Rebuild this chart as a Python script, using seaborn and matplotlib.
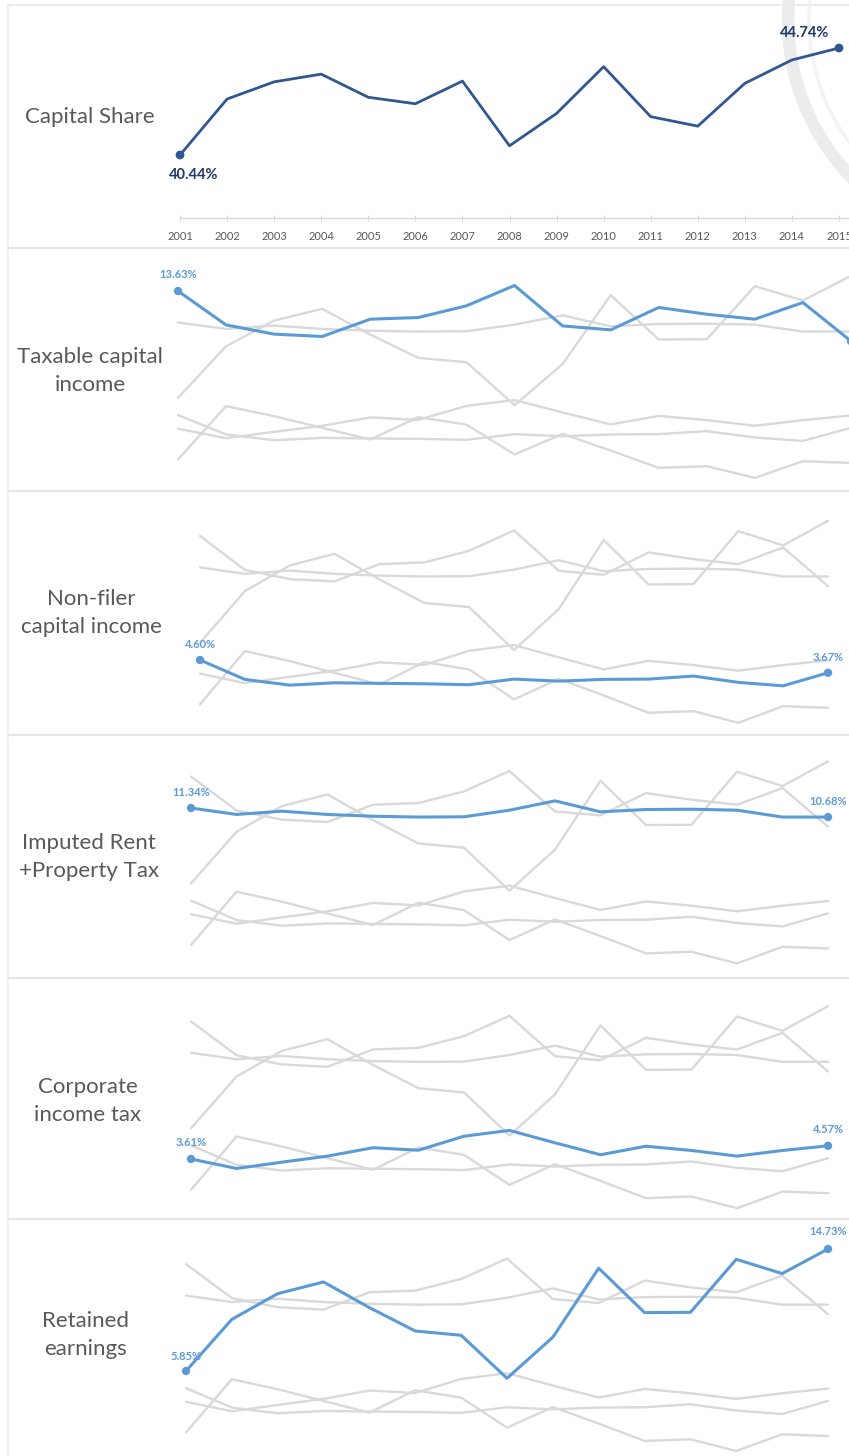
import matplotlib
matplotlib.use("Agg")
import matplotlib.pyplot as plt
import numpy as np
import pandas as pd
import seaborn as sns
from matplotlib.patches import Circle

# ---------------------------------------------------------------- data
years = list(range(2001, 2016))

capital_share = [40.44, 42.69, 43.38, 43.69, 42.76, 42.50, 43.41, 40.81,
                 42.11, 43.99, 41.98, 41.60, 43.32, 44.26, 44.74]

taxable_capital_income = [13.63, 11.16, 10.49, 10.32, 11.58, 11.70, 12.55, 14.03,
                          11.09, 10.80, 12.43, 11.94, 11.58, 12.79, 9.98]
non_filer_capital_income = [4.60, 3.19, 2.77, 2.94, 2.90, 2.87, 2.80, 3.21,
                            3.06, 3.19, 3.21, 3.43, 2.97, 2.72, 3.67]
imputed_rent_property_tax = [11.34, 10.87, 11.11, 10.87, 10.74, 10.68, 10.70, 11.18,
                             11.86, 11.06, 11.23, 11.25, 11.18, 10.68, 10.68]
corporate_income_tax = [3.61, 2.92, 3.38, 3.82, 4.43, 4.25, 5.27, 5.69,
                        4.79, 3.92, 4.54, 4.23, 3.82, 4.23, 4.57]
retained_earnings = [5.85, 9.61, 11.48, 12.33, 10.46, 8.76, 8.45, 5.32,
                     8.31, 13.33, 10.10, 10.12, 13.98, 12.94, 14.73]
other_components = [1.37, 5.25, 4.52, 3.67, 2.82, 4.45, 3.91, 1.73,
                    3.23, 2.02, 0.76, 0.88, 0.03, 1.24, 1.12]

component_names = ["Taxable capital\nincome", "Non-filer\ncapital income",
                   "Imputed Rent\n+Property Tax", "Corporate\nincome tax",
                   "Retained\nearnings", "Other"]
component_values = [taxable_capital_income, non_filer_capital_income,
                    imputed_rent_property_tax, corporate_income_tax,
                    retained_earnings, other_components]

long_df = pd.DataFrame({
    "year": np.tile(years, len(component_names)),
    "series": np.repeat(component_names, len(years)),
    "value": np.concatenate(component_values),
})

# ---------------------------------------------------------------- style
sns.set_theme(style="white")
plt.rcParams["font.family"] = ["Lato", "DejaVu Sans"]

W, H, DPI = 849, 1456, 100
fig = plt.figure(figsize=(W / DPI, H / DPI), dpi=DPI)
fig.patch.set_facecolor("white")

BLUE = "#5B9BD5"
NAVY_LINE = "#30578F"
NAVY_TEXT = "#1F3864"
GRAY_LINE = "#D9D9D9"
LABEL_GRAY = "#595959"
RULE = "#E4E4E4"


def px_axes(x0, y0, x1, y1, z=1):
    ax = fig.add_axes([x0 / W, 1 - y1 / H, (x1 - x0) / W, (y1 - y0) / H])
    ax.set_zorder(z)
    ax.patch.set_alpha(0)
    return ax


# background layer in pixel units: frame, separators, watermark ring
deco = px_axes(0, 0, W, H, z=0)
deco.set_xlim(0, W)
deco.set_ylim(H, 0)
deco.axis("off")
deco.add_patch(Circle((1015, 20), 227, fill=False, lw=9, ec="#ECECEC"))
deco.add_patch(Circle((1015, 20), 206, fill=False, lw=2.5, ec="#F3F3F3"))
deco.plot([8, 8], [5, H], color="#EFEFEF", lw=1.2)
deco.plot([8, W], [5, 5], color="#EBEBEB", lw=1.5)
for y in [248, 491, 735, 978, 1219]:
    deco.plot([8, W], [y, y], color=RULE, lw=1.5)


def x_limits(xa, xb):
    ppy = (xb - xa) / (years[-1] - years[0])
    return years[0] - xa / ppy, years[0] + (W - xa) / ppy


# ---------------------------------------------------------------- top panel
top = px_axes(0, 5, W, 218, z=2)
top.set_xlim(*x_limits(180, 839))
ppv = 24.88
top.set_ylim(capital_share[0] - (218 - 155) / ppv, capital_share[0] + (155 - 5) / ppv)
sns.lineplot(x=years, y=capital_share, ax=top, color=NAVY_LINE, lw=2.0, legend=False)
sns.scatterplot(x=[years[0], years[-1]], y=[capital_share[0], capital_share[-1]],
                ax=top, color=NAVY_LINE, s=40, edgecolor="none", legend=False, zorder=5)
top.annotate(f"{capital_share[0]:.2f}%", (years[0], capital_share[0]),
             xytext=(14, -20), textcoords="offset pixels", ha="center", va="center",
             fontsize=10.5, fontweight="bold", color=NAVY_TEXT)
top.annotate(f"{capital_share[-1]:.2f}%", (years[-1], capital_share[-1]),
             xytext=(-34, 15), textcoords="offset pixels", ha="center", va="center",
             fontsize=10.5, fontweight="bold", color=NAVY_TEXT)
for s in ["top", "left", "right"]:
    top.spines[s].set_visible(False)
top.spines["bottom"].set_color(GRAY_LINE)
top.spines["bottom"].set_linewidth(1.0)
top.spines["bottom"].set_bounds(years[0], top.get_xlim()[1])
top.set_xticks(years)
top.set_xticklabels([str(y) for y in years])
top.tick_params(axis="x", direction="inout", length=4, width=0.8, color=GRAY_LINE,
                labelsize=8, labelcolor=LABEL_GRAY, pad=7, bottom=True)
top.set_yticks([])
top.set_xlabel("")
top.set_ylabel("")
deco.text(90, 117, "Capital Share", ha="center", va="center", fontsize=16, color=LABEL_GRAY)

# ---------------------------------------------------------------- component panels
PPV = 13.74  # pixels per percentage point, shared by all component panels
panels = [
    # index, top px, bottom px, x of 2001, x of 2015, y of first value, label centre
    (0, 248, 491, 178, 851, 291, (90, 371)),
    (1, 491, 735, 200, 828, 660, (91, 613)),
    (2, 735, 978, 191, 828, 808, (89, 857)),
    (3, 978, 1219, 191, 828, 1159, (88, 1101)),
    (4, 1219, 1456, 186, 828, 1371, (86, 1335)),
]
label_offsets = {
    0: ((0, 16), (-24, -16)),
    1: ((0, 15), (0, 15)),
    2: ((0, 15), (0, 16)),
    3: ((0, 17), (0, 16)),
    4: ((0, 15), (0, 17)),
}

for idx, ptop, pbot, xa, xb, y0, (lx, ly) in panels:
    ax = px_axes(0, ptop + 1, W, pbot, z=2)
    ax.set_xlim(*x_limits(xa, xb))
    v0 = component_values[idx][0]
    ax.set_ylim(v0 - (pbot - y0) / PPV, v0 + (y0 - (ptop + 1)) / PPV)
    name = component_names[idx]
    others = long_df[long_df["series"] != name]
    sns.lineplot(data=others, x="year", y="value", units="series", estimator=None,
                 ax=ax, color=GRAY_LINE, lw=1.7, legend=False)
    vals = component_values[idx]
    sns.lineplot(x=years, y=vals, ax=ax, color=BLUE, lw=2.2, legend=False, zorder=4)
    sns.scatterplot(x=[years[0], years[-1]], y=[vals[0], vals[-1]], ax=ax, color=BLUE,
                    s=36, edgecolor="none", legend=False, zorder=5)
    (ox0, oy0), (ox1, oy1) = label_offsets[idx]
    ax.annotate(f"{vals[0]:.2f}%", (years[0], vals[0]), xytext=(ox0, oy0),
                textcoords="offset pixels", ha="center", va="center",
                fontsize=8, fontweight="bold", color=BLUE)
    end_kw = dict(textcoords="offset pixels", ha="center", va="center",
                  fontsize=8, fontweight="bold", color=BLUE)
    if idx == 0:
        end_kw["arrowprops"] = dict(arrowstyle="-", color="#C9C9C9", lw=0.9,
                                    shrinkA=6, shrinkB=2)
    ax.annotate(f"{vals[-1]:.2f}%", (years[-1], vals[-1]), xytext=(ox1, oy1), **end_kw)
    ax.axis("off")
    deco.text(lx, ly, name, ha="center", va="center", fontsize=16,
              color=LABEL_GRAY, linespacing=1.45)

fig.savefig("out.png", dpi=DPI, facecolor="white")
